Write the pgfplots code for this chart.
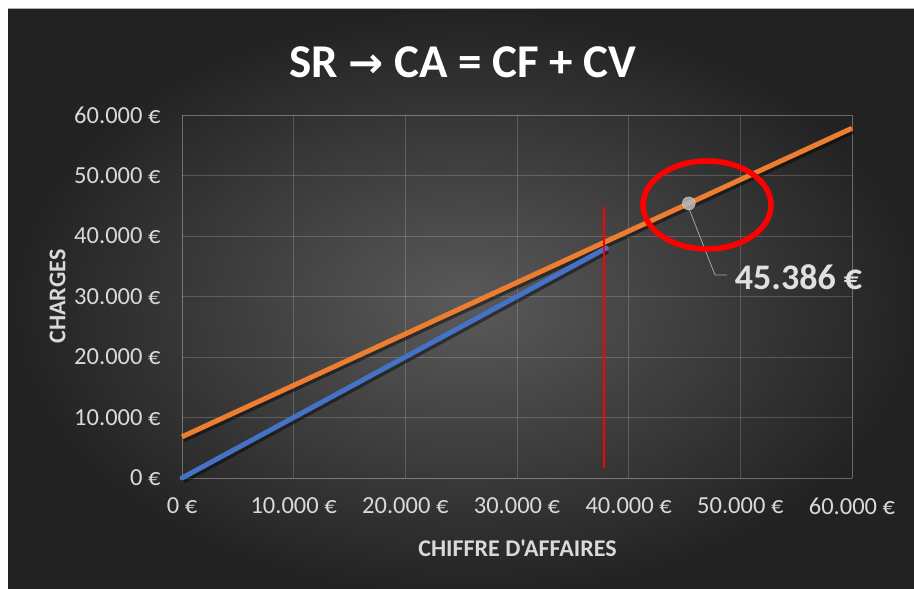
\documentclass[border=0pt]{standalone}
\usepackage{pgfplots}
\pgfplotsset{compat=1.18}
\usepackage{fontspec}
\setmainfont{Carlito}[Ligatures=TeXOff]
\newfontfamily\dejavu{DejaVu Sans}
\definecolor{bgin}{RGB}{90,90,90}
\definecolor{bgout}{RGB}{34,34,34}
\definecolor{tick}{RGB}{217,217,217}
\definecolor{xlorange}{RGB}{237,125,49}
\definecolor{xlblue}{RGB}{68,114,196}
\begin{document}
\begin{tikzpicture}[x=1pt,y=1pt]
\useasboundingbox (0,0) rectangle (914,589);
\fill[white] (0,0) rectangle (914,589);
\fill[bgout] (8,-10) rectangle (924,580);
\shade[inner color=bgin, outer color=bgout] (8,-10) rectangle (924,580);
\draw[gray!60, line width=0.8pt] (8,580.4) -- (914,580.4);
\node[text=white, font=\fontsize{47}{47}\selectfont\bfseries] at (463,527) {SR {\dejavu\bfseries\fontsize{42}{42}\selectfont →} CA = CF + CV};
\begin{axis}[
  at={(182pt,111pt)}, anchor=south west,
  scale only axis, width=670pt, height=363pt,
  xmin=0, xmax=60000, ymin=0, ymax=60000,
  scaled ticks=false,
  xtick={0,10000,20000,30000,40000,50000,60000},
  ytick={0,10000,20000,30000,40000,50000,60000},
  xticklabels={0 €,10.000 €,20.000 €,30.000 €,40.000 €,50.000 €,60.000 €},
  yticklabels={0 €,10.000 €,20.000 €,30.000 €,40.000 €,50.000 €,60.000 €},
  tick label style={text=tick, font=\fontsize{24.5}{24.5}\selectfont},
  xticklabel style={yshift=-16pt},
  yticklabel style={xshift=-18pt},
  major tick length=0pt,
  grid=major,
  grid style={draw=white, opacity=0.18, line width=0.8pt},
  axis line style={draw=white, opacity=0.18, line width=0.8pt},
  xlabel={CHIFFRE D'AFFAIRES}, ylabel={CHARGES},
  label style={text=tick, font=\fontsize{24}{24}\selectfont\bfseries},
  xlabel style={at={(axis description cs:0.5007,-0.193)}, anchor=center},
  ylabel style={at={(axis description cs:-0.1857,0.5)}, anchor=center},
  clip=false,
]
% shadows
\addplot[black, opacity=0.45, line width=5pt, xshift=1.5pt, yshift=-3pt] coordinates {(0,0) (38000,38000)};
\addplot[black, opacity=0.45, line width=5pt, xshift=1.5pt, yshift=-3pt] coordinates {(0,6808) (60000,57808)};
% lines
\addplot[xlblue, line width=5pt, line cap=round] coordinates {(0,0) (38000,38000)};
\addplot[xlorange, line width=5pt] coordinates {(0,6808) (60000,57808)};
% red vertical line
\addplot[red, line width=2.8pt] coordinates {(37790,1650) (37790,44800)};
% leader line
\addplot[gray!70, line width=0.8pt] coordinates {(45386,44600) (47730,33550) (48790,33550)};
% break-even point
\addplot[only marks, mark=*, mark size=6.5pt, mark options={fill=gray!55, draw=gray!35, fill opacity=0.85}] coordinates {(45386,45386)};
\node[anchor=west, text=white!88!black, font=\fontsize{36}{36}\selectfont\bfseries, inner sep=0pt] at (axis cs:49500,33220) {45.386 €};
\draw[red, line width=5.5pt] (axis cs:47015,45124) ellipse [x radius=64pt, y radius=44pt];
\end{axis}
\end{tikzpicture}
\end{document}
